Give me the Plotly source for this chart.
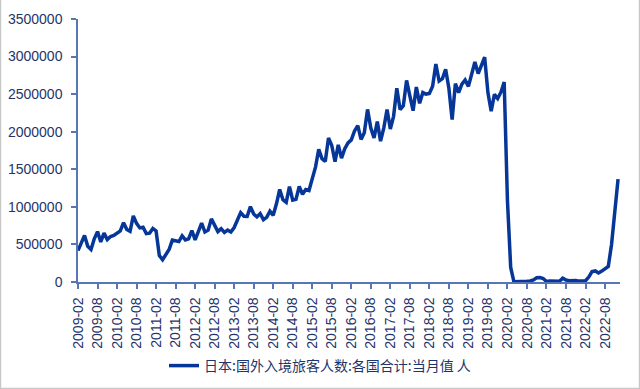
import plotly.graph_objects as go

# Monthly arrivals (persons), 2009-02 .. 2022-12
start_year, start_month = 2009, 2
values_k = [
    # 2009 Feb-Dec
    418, 525, 620, 476, 432, 575, 670, 533, 650, 565, 605,
    # 2010
    620, 645, 680, 790, 700, 675, 879, 780, 720, 730, 645, 650,
    # 2011
    713, 679, 352, 296, 359, 432, 557, 546, 539, 615, 560, 575,
    # 2012
    685, 560, 690, 785, 665, 690, 840, 760, 670, 710, 660, 690,
    # 2013
    665, 725, 830, 923, 875, 873, 1003, 906, 866, 910, 830, 860,
    # 2014
    943, 887, 1040, 1231, 1095, 1060, 1270, 1090, 1100, 1271, 1168, 1231,
    # 2015
    1218, 1387, 1529, 1765, 1642, 1605, 1918, 1817, 1600, 1826, 1648, 1773,
    # 2016
    1851, 1891, 2010, 2082, 1897, 1985, 2297, 2049, 1918, 2135, 1875, 2051,
    # 2017
    2296, 2035, 2205, 2579, 2295, 2346, 2682, 2478, 2280, 2595, 2378, 2521,
    # 2018
    2501, 2509, 2605, 2901, 2675, 2705, 2832, 2578, 2160, 2641, 2521, 2633,
    # 2019
    2689, 2604, 2760, 2927, 2773, 2880, 2991, 2520, 2272, 2497, 2441, 2526,
    # 2020
    2661, 1085, 194, 2.9, 1.7, 2.6, 3.8, 8.7, 13.7, 27.4, 56.7, 58.7,
    # 2021
    46.5, 7.4, 12.3, 10.9, 10.0, 9.3, 51.1, 25.9, 17.7, 22.1, 21.0, 12.1,
    # 2022
    17.8, 16.7, 66.1, 139.5, 147.0, 120.4, 144.5, 169.9, 206.6, 498.6, 934.5, 1370,
]
values = [v * 1000 for v in values_k]

months = []
y, m = start_year, start_month
for _ in values:
    months.append(f"{y:04d}-{m:02d}")
    m += 1
    if m > 12:
        m = 1
        y += 1

idx = list(range(len(values)))
tick_idx = [i for i in idx if (i % 6) == 0]
tick_text = [months[i] for i in tick_idx]
y_ticks = [0, 500000, 1000000, 1500000, 2000000, 2500000, 3000000, 3500000]
y_tick_text = [str(v) for v in y_ticks]

series_name = "日本:国外入境旅客人数:各国合计:当月值 人"

LINE = "#063798"
AXIS = "#5676b8"
TXT = "#1f3468"
FONT = "Liberation Sans, Arial, Noto Sans CJK SC, sans-serif"

W, H = 640, 389
L, R, T, B = 78, 20, 19, 107

fig = go.Figure()
fig.add_trace(go.Scatter(
    x=idx, y=values, mode="lines", name=series_name,
    line=dict(color=LINE, width=3.5),
))

fig.update_layout(
    width=W, height=H,
    margin=dict(l=L, r=R, t=T, b=B, autoexpand=False),
    paper_bgcolor="white", plot_bgcolor="white",
    font=dict(family=FONT, size=14, color=TXT),
    showlegend=True,
    legend=dict(
        orientation="h", xref="container", yref="container",
        x=0.5, xanchor="center", y=1 - 366 / H, yanchor="middle",
        font=dict(size=14, color=TXT, family="Noto Sans CJK SC, Liberation Sans, sans-serif"),
        bgcolor="rgba(0,0,0,0)",
    ),
    shapes=[dict(
        type="rect", xref="paper", yref="paper",
        x0=-(L - 0.5) / (W - L - R), x1=(W - L - 0.5) / (W - L - R),
        y0=-(B - 0.5) / (H - T - B), y1=(H - T - 0.5) / (H - T - B),
        line=dict(color="#c8c8c8", width=1.5), fillcolor="rgba(0,0,0,0)",
        layer="below",
    )],
)

fig.update_xaxes(
    range=[0, 166.6], automargin=False,
    tickmode="array", tickvals=tick_idx, ticktext=tick_text,
    tickangle=-90,
    showline=True, linecolor=AXIS, linewidth=1.5,
    ticks="outside", ticklen=5, tickcolor=AXIS, tickwidth=1.5,
    ticklabelstandoff=3,
    showgrid=False, zeroline=False,
    tickfont=dict(size=14, color=TXT, family=FONT),
)
fig.update_yaxes(
    range=[0, 3500000], automargin=False,
    tickmode="array", tickvals=y_ticks, ticktext=y_tick_text,
    showline=True, linecolor=AXIS, linewidth=1.5,
    ticks="outside", ticklen=5, tickcolor=AXIS, tickwidth=1.5,
    ticklabelstandoff=6,
    showgrid=False, zeroline=False,
    tickfont=dict(size=14, color=TXT, family=FONT),
)

fig.write_html("out.html")
